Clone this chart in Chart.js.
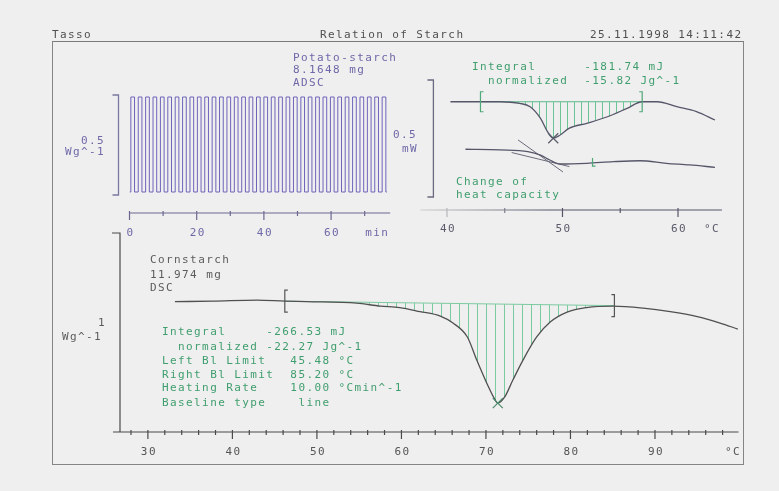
<!DOCTYPE html>
<html>
<head>
<meta charset="utf-8">
<script src="https://cdn.jsdelivr.net/npm/chart.js@4.4.1/dist/chart.umd.min.js"></script>
<style>
body { margin: 0; background: #efefef; }
#wrap { position: relative; width: 779px; height: 491px; overflow: hidden; background: #efefef; }
canvas { position: absolute; left: 0; top: 0; }
#frame { position: absolute; left: 52px; top: 41px; width: 690px; height: 422px; border: 1.5px solid #858585; border-top-color: #7a7a7a; }
.t { position: absolute; font-family: "DejaVu Sans Mono", monospace; font-size: 11px; letter-spacing: 1.4px; line-height: 12px; white-space: pre; }
.h { color: #4f4f4f; }
.p { color: #6e68a8; }
.k { color: #5c5c5c; }
.g { color: #3f9e6e; }
</style>
</head>
<body>
<div id="wrap">
  <div id="frame"></div>
  <canvas id="adsc" width="779" height="491"></canvas>
  <canvas id="potato" width="779" height="491"></canvas>
  <canvas id="corn" width="779" height="491"></canvas>

  <div class="t h" style="left:52px;top:29px">Tasso</div>
  <div class="t h" style="left:320px;top:29px">Relation of Starch</div>
  <div class="t h" style="left:590px;top:29px">25.11.1998 14:11:42</div>

  <div class="t p" style="left:293px;top:52px">Potato-starch</div>
  <div class="t p" style="left:293px;top:64px">8.1648 mg</div>
  <div class="t p" style="left:293px;top:77px">ADSC</div>
  <div class="t p" style="left:81px;top:135px">0.5</div>
  <div class="t p" style="left:65px;top:146px">Wg^-1</div>
  <div class="t p" style="left:393px;top:129px">0.5</div>
  <div class="t p" style="left:402px;top:143px">mW</div>

  <div class="t g" style="left:472px;top:61px">Integral      -181.74 mJ</div>
  <div class="t g" style="left:472px;top:75px">  normalized  -15.82 Jg^-1</div>
  <div class="t g" style="left:456px;top:176px">Change of</div>
  <div class="t g" style="left:456px;top:189px">heat capacity</div>

  <div class="t k" style="left:150px;top:254px">Cornstarch</div>
  <div class="t k" style="left:150px;top:269px">11.974 mg</div>
  <div class="t k" style="left:150px;top:282px">DSC</div>
  <div class="t k" style="left:98px;top:317px">1</div>
  <div class="t k" style="left:62px;top:331px">Wg^-1</div>

  <div class="t g" style="left:162px;top:326px">Integral     -266.53 mJ</div>
  <div class="t g" style="left:162px;top:341px">  normalized -22.27 Jg^-1</div>
  <div class="t g" style="left:162px;top:355px">Left Bl Limit   45.48 °C</div>
  <div class="t g" style="left:162px;top:369px">Right Bl Limit  85.20 °C</div>
  <div class="t g" style="left:162px;top:382px">Heating Rate    10.00 °Cmin^-1</div>
  <div class="t g" style="left:162px;top:397px">Baseline type    line</div>
</div>
<script>
// ADSC modulated signal (min) - switching times
const modUp   = [0.4, 2.6, 4.8, 7.0, 9.2, 11.4, 13.6, 15.8, 18.0, 20.2, 22.4, 24.6, 26.8, 29.0, 31.2, 33.4, 35.6, 37.8,
                 40.0, 42.2, 44.4, 46.6, 48.8, 51.0, 53.2, 55.4, 57.6, 59.8, 62.0, 64.2, 66.4, 68.6, 70.8, 73.0, 75.2];
const modDown = [1.5, 3.7, 5.9, 8.1, 10.3, 12.5, 14.7, 16.9, 19.1, 21.3, 23.5, 25.7, 27.9, 30.1, 32.3, 34.5, 36.7, 38.9,
                 41.1, 43.3, 45.5, 47.7, 49.9, 52.1, 54.3, 56.5, 58.7, 60.9, 63.1, 65.3, 67.5, 69.7, 71.9, 74.1, 76.3];
const modHigh = 0.49, modLow = 0.015, modEnd = 76.6;
const adscBar = [0, 0.5];
const minTicks = [0, 20, 40, 60];
const minMinor = [10, 30, 50, 70];

// potato starch, upper right (°C, mW)
const potT  = [40.3, 42.9, 44.6, 46.3, 47.2, 48.1, 48.7, 49.2, 49.8, 50.6, 52.1, 53.9, 55.6, 56.9, 58.2, 59.9, 61.6, 63.2];
const potHF = [0.407, 0.407, 0.407, 0.400, 0.386, 0.336, 0.279, 0.251, 0.265, 0.294, 0.315, 0.343, 0.379, 0.407, 0.407, 0.386, 0.365, 0.329];
const potBaseT = [42.9, 56.9];
const potBaseHF = [0.407, 0.407];
const potPeak = [49.2, 0.251];
const cpT  = [41.6, 44.6, 47.0, 48.1, 48.9, 49.8, 52.1, 54.4, 56.7, 59.0, 61.0, 63.2];
const cpHF = [0.204, 0.201, 0.194, 0.179, 0.158, 0.141, 0.144, 0.151, 0.155, 0.144, 0.137, 0.127];
const tanAT = [46.15, 50.04], tanAHF = [0.244, 0.107];
const tanBT = [45.6, 50.6], tanBHF = [0.190, 0.130];
const cpMid = [52.6, 0.145];
const potBar = [0, 0.5];
const potTicks = [40, 50, 60];
const potMinor = [45, 55];

// corn starch, lower plot (°C, Wg^-1)
const cornT  = [33.2, 37.7, 42.9, 46.2, 48.8, 54.7, 57.5, 59.8, 62.2, 64.6, 66.1, 67.8, 68.9, 70.1, 71.1, 71.4, 72.2, 73.2, 74.4,
                76.0, 77.6, 79.6, 81.9, 85.0, 88.6, 91.8, 95.0, 97.7, 99.8];
const cornHF = [-1.38, -1.37, -1.35, -1.37, -1.38, -1.41, -1.47, -1.50, -1.58, -1.67, -1.81, -2.09, -2.55, -3.02, -3.36, -3.42, -3.30, -2.95, -2.55,
                -2.09, -1.79, -1.59, -1.50, -1.47, -1.51, -1.58, -1.68, -1.81, -1.93];
const cornBaseT = [46.2, 85.2];
const cornBaseHF = [-1.37, -1.46];
const cornPeak = [71.4, -3.42];
const cornTicks = [30, 40, 50, 60, 70, 80, 90];
const cornMinor = [28, 32, 34, 36, 38, 42, 44, 46, 48, 52, 54, 56, 58, 62, 64, 66, 68, 72, 74, 76, 78, 82, 84, 86, 88, 92, 94, 96, 98];

const FONT = '11px "DejaVu Sans Mono", monospace';
const pts = (xs, ys) => xs.map((x, i) => ({x: x, y: ys[i]}));

function hatch(step, color) {
  const c = document.createElement('canvas');
  c.width = step; c.height = 4;
  const g = c.getContext('2d');
  g.fillStyle = color;
  g.fillRect(0, 0, 1, 4);
  return g.createPattern(c, 'repeat');
}

function axisPlugin(cfg) {
  return {
    id: 'axis_' + cfg.name,
    afterDraw(chart) {
      const ctx = chart.ctx, sx = chart.scales.x, a = chart.chartArea;
      const y0 = a.bottom + cfg.gap;
      ctx.save();
      ctx.lineWidth = 1.2;
      let stroke = cfg.color;
      if (cfg.fade) {
        const gr = ctx.createLinearGradient(a.left, 0, a.left + cfg.fade, 0);
        gr.addColorStop(0, '#cfcfcf');
        gr.addColorStop(1, cfg.color);
        stroke = gr;
      }
      ctx.strokeStyle = stroke;
      ctx.beginPath();
      ctx.moveTo(a.left - cfg.extL, y0);
      ctx.lineTo(a.right + cfg.extR, y0);
      ctx.stroke();
      cfg.minor.forEach(v => {
        const px = sx.getPixelForValue(v);
        ctx.beginPath(); ctx.moveTo(px, y0 - 2); ctx.lineTo(px, y0 + 3); ctx.stroke();
      });
      cfg.major.forEach(v => {
        const px = sx.getPixelForValue(v);
        ctx.beginPath(); ctx.moveTo(px, y0 - 2); ctx.lineTo(px, y0 + 7); ctx.stroke();
      });
      if (cfg.yAxis) {
        ctx.strokeStyle = cfg.color;
        ctx.beginPath();
        ctx.moveTo(a.left - 8, a.top);
        ctx.lineTo(a.left, a.top);
        ctx.lineTo(a.left, y0);
        ctx.stroke();
      }
      ctx.fillStyle = cfg.textColor;
      ctx.font = FONT;
      ctx.letterSpacing = '1.4px';
      ctx.textAlign = 'center';
      ctx.textBaseline = 'middle';
      cfg.major.forEach(v => ctx.fillText(String(v), sx.getPixelForValue(v) + 1, y0 + cfg.labelGap));
      ctx.fillText(cfg.unit, a.right - cfg.unitBack, y0 + cfg.labelGap);
      ctx.restore();
    }
  };
}

function barPlugin(cfg) {
  return {
    id: 'bar_' + cfg.name,
    afterDraw(chart) {
      const ctx = chart.ctx, sy = chart.scales.y, a = chart.chartArea;
      const top = sy.getPixelForValue(cfg.range[1]), bot = sy.getPixelForValue(cfg.range[0]);
      const x = a.left + cfg.dx;
      ctx.save();
      ctx.strokeStyle = cfg.color;
      ctx.lineWidth = 1.3;
      ctx.beginPath();
      ctx.moveTo(x - 6, top); ctx.lineTo(x, top); ctx.lineTo(x, bot); ctx.lineTo(x - 6, bot);
      ctx.stroke();
      ctx.restore();
    }
  };
}

function markPlugin(cfg) {
  return {
    id: 'mark_' + cfg.name,
    afterDatasetsDraw(chart) {
      const ctx = chart.ctx, sx = chart.scales.x, sy = chart.scales.y;
      ctx.save();
      ctx.lineWidth = 1.2;
      ctx.strokeStyle = cfg.limitColor;
      cfg.baseT.forEach((t, i) => {
        const px = sx.getPixelForValue(t), py = sy.getPixelForValue(cfg.baseHF[i]);
        const d = i === 0 ? 3 : -3, h = cfg.h;
        ctx.beginPath();
        ctx.moveTo(px + d, py - h); ctx.lineTo(px, py - h); ctx.lineTo(px, py + h); ctx.lineTo(px + d, py + h);
        ctx.stroke();
      });
      ctx.strokeStyle = cfg.peakColor;
      const qx = sx.getPixelForValue(cfg.peak[0]), qy = sy.getPixelForValue(cfg.peak[1]);
      ctx.beginPath();
      ctx.moveTo(qx - 5, qy - 5); ctx.lineTo(qx + 5, qy + 5);
      ctx.moveTo(qx + 5, qy - 5); ctx.lineTo(qx - 5, qy + 5);
      ctx.stroke();
      if (cfg.mid) {
        ctx.strokeStyle = cfg.limitColor;
        const mx = sx.getPixelForValue(cfg.mid[0]), my = sy.getPixelForValue(cfg.mid[1]);
        ctx.beginPath(); ctx.moveTo(mx, my - 5); ctx.lineTo(mx, my + 3); ctx.lineTo(mx + 3, my + 3); ctx.stroke();
      }
      ctx.restore();
    }
  };
}

// build stepped points for the modulated signal
const modPts = [{x: 0, y: modLow}];
modUp.forEach((u, i) => {
  modPts.push({x: u, y: modHigh});
  modPts.push({x: modDown[i], y: modLow});
});
modPts.push({x: modEnd, y: modLow});

function baseOpts(pad, xr, yr) {
  return {
    responsive: false,
    animation: false,
    events: [],
    layout: { padding: pad },
    plugins: { legend: { display: false }, tooltip: { enabled: false } },
    elements: { point: { radius: 0 } },
    scales: {
      x: { type: 'linear', display: false, min: xr[0], max: xr[1] },
      y: { type: 'linear', display: false, min: yr[0], max: yr[1] }
    }
  };
}

new Chart(document.getElementById('adsc'), {
  type: 'line',
  data: {
    datasets: [{
      data: modPts,
      stepped: true,
      borderColor: '#6d64bb',
      borderWidth: 1,
      fill: false
    }]
  },
  options: baseOpts({left: 129.5, right: 390.8, top: 91, bottom: 295}, [0, 77], [-0.005, 0.52]),
  plugins: [
    axisPlugin({name: 'adsc', gap: 17, labelGap: 20, extL: 0, extR: 2, color: '#6a6890', textColor: '#6e68a8',
      major: minTicks, minor: minMinor, unit: 'min', unitBack: 11}),
    barPlugin({name: 'adsc', range: adscBar, dx: -11, color: '#7a78a0'})
  ]
});

new Chart(document.getElementById('potato'), {
  type: 'line',
  data: {
    datasets: [{
      data: pts(potT, potHF),
      borderColor: '#56566a',
      borderWidth: 1.3,
      cubicInterpolationMode: 'monotone',
      fill: 1,
      backgroundColor: hatch(7, '#6cc496')
    }, {
      data: pts(potBaseT, potBaseHF),
      borderColor: '#5cb888',
      borderWidth: 1,
      fill: false
    }, {
      data: pts(cpT, cpHF),
      borderColor: '#56566a',
      borderWidth: 1.3,
      cubicInterpolationMode: 'monotone',
      fill: false
    }, {
      data: pts(tanAT, tanAHF),
      borderColor: '#6a6a7a',
      borderWidth: 1,
      fill: false
    }, {
      data: pts(tanBT, tanBHF),
      borderColor: '#6a6a7a',
      borderWidth: 1,
      fill: false
    }]
  },
  options: baseOpts({left: 420.4, right: 57.1, top: 80, bottom: 294}, [37.7, 63.8], [0, 0.5]),
  plugins: [
    axisPlugin({name: 'pot', gap: 13, labelGap: 19, extL: 0, extR: 0, color: '#55556a', textColor: '#5a5a6a',
      major: potTicks, minor: potMinor, unit: '°C', unitBack: 10, fade: 130}),
    barPlugin({name: 'pot', range: potBar, dx: 13, color: '#6a6a80'}),
    markPlugin({name: 'pot', baseT: potBaseT, baseHF: potBaseHF, peak: potPeak, mid: cpMid, h: 10,
      limitColor: '#4fa878', peakColor: '#5a5a6a'})
  ]
});

new Chart(document.getElementById('corn'), {
  type: 'line',
  data: {
    datasets: [{
      data: pts(cornT, cornHF),
      borderColor: '#505050',
      borderWidth: 1.3,
      cubicInterpolationMode: 'monotone',
      fill: 1,
      backgroundColor: hatch(9, '#7ccaa0')
    }, {
      data: pts(cornBaseT, cornBaseHF),
      borderColor: '#7ccaa0',
      borderWidth: 1,
      fill: false
    }]
  },
  options: baseOpts({left: 120, right: 39.5, top: 233, bottom: 59}, [26.7, 100], [-4, 0]),
  plugins: [
    axisPlugin({name: 'corn', gap: 0, labelGap: 20, extL: 7, extR: -1, color: '#4a4a4a', textColor: '#555555',
      major: cornTicks, minor: cornMinor, unit: '°C', unitBack: 6.5, yAxis: true}),
    markPlugin({name: 'corn', baseT: cornBaseT, baseHF: cornBaseHF, peak: cornPeak, h: 11,
      limitColor: '#555555', peakColor: '#4a8a6a'})
  ]
});
</script>
</body>
</html>
